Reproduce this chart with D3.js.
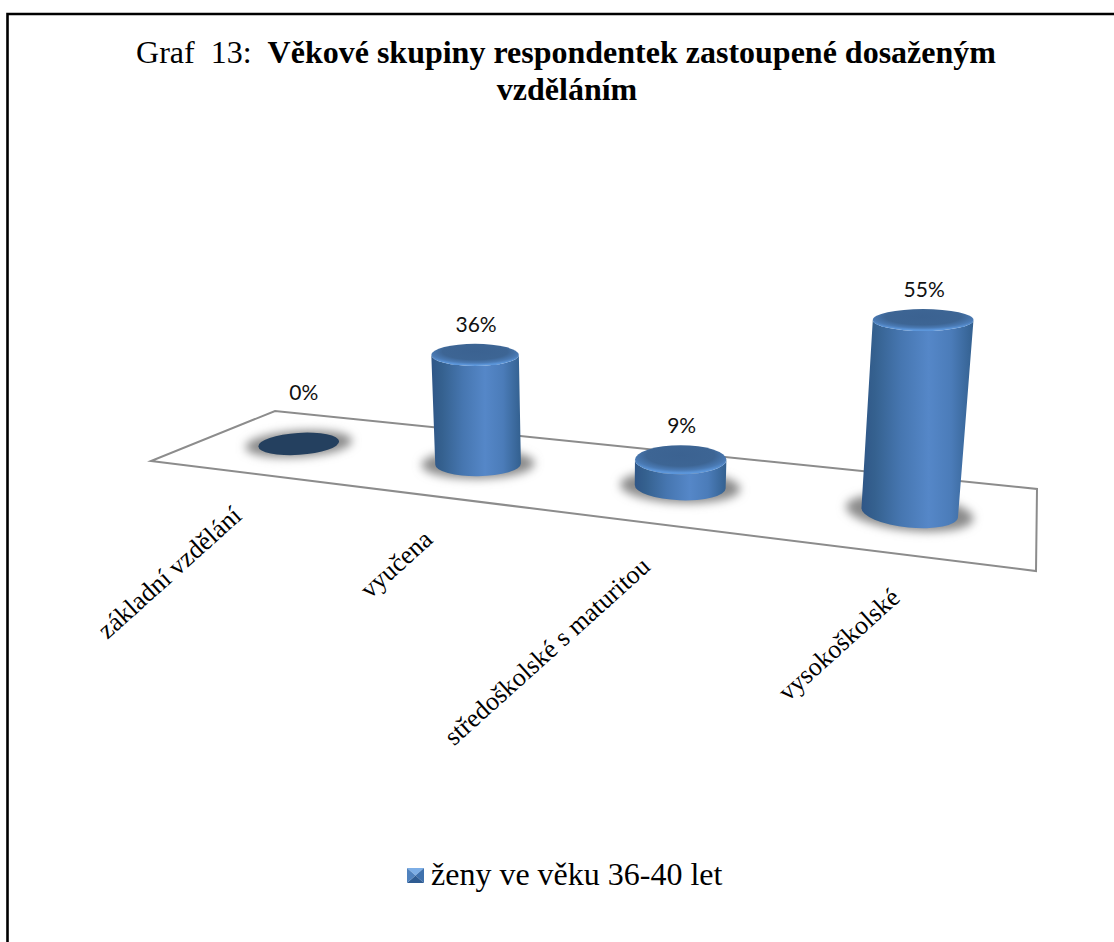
<!DOCTYPE html>
<html><head><meta charset="utf-8">
<style>html,body{margin:0;padding:0;background:#fff;overflow:hidden}svg{display:block}</style>
<script src="https://cdn.jsdelivr.net/npm/d3@7"></script></head>
<body><svg id="c" width="1114" height="942"></svg>
<script>
const categories = ["základní vzdělání","vyučena","středoškolské s maturitou","vysokoškolské"];
const values = [0,36,9,55];
const seriesName = "ženy ve věku 36-40 let";
const titlePrefix = "Graf  13:  ";
const titleBold1 = "Věkové skupiny respondentek zastoupené dosaženým";
const titleBold2 = "vzděláním";

const svg=d3.select("#c");
const defs=svg.append("defs");
const serif='"Liberation Serif","Times New Roman",serif';

// floor plane projection (unit square -> picture)
const fl={a:[151,461],b:[1036,571],c:[1037,489],d:[275,411]};
function homography(p0,p1,p2,p3){
  const dx1=p1[0]-p2[0],dx2=p3[0]-p2[0],sx=p0[0]-p1[0]+p2[0]-p3[0];
  const dy1=p1[1]-p2[1],dy2=p3[1]-p2[1],sy=p0[1]-p1[1]+p2[1]-p3[1];
  const den=dx1*dy2-dx2*dy1;
  const g=(sx*dy2-dx2*sy)/den,h=(dx1*sy-sx*dy1)/den;
  const a=p1[0]-p0[0]+g*p1[0],b=p3[0]-p0[0]+h*p3[0],c=p0[0];
  const d=p1[1]-p0[1]+g*p1[1],e=p3[1]-p0[1]+h*p3[1],f=p0[1];
  return (u,v)=>{const w=g*u+h*v+1;return [(a*u+b*v+c)/w,(d*u+e*v+f)/w];};
}
const floor=homography(fl.a,fl.b,fl.c,fl.d);
const u=d3.scaleBand().domain(categories).range([0,1]);
const uc=c=>u(c)+u.bandwidth()/2;

// size/lean as function of the picture x of the base centre
const widthAt=d3.scaleLinear([300,911],[81,97]);
const ryAt=d3.scaleLinear([300,911],[11,15]);
const rotAt=d3.scaleLinear([300,911],[-3.6,5.8]);
const unitAt=d3.scalePow().exponent(3).domain([300,911]).range([3.03,3.54]);
const leanAt=d3.scaleLinear([480,911],[-0.027,0.07]);
const topRyAt=d3.scaleLinear([27,194],[1.08,0.73]);

// frame: only the top and left rules lie inside the picture
svg.append("path").attr("d","M7.5 942V14H1114").attr("fill","none").attr("stroke","#000").attr("stroke-width",2.6);

// title
const t=svg.append("text").attr("font-family",serif).attr("font-size",32).attr("fill","#000");
const t1=t.append("tspan").attr("x",566).attr("y",63).attr("text-anchor","middle");
t1.append("tspan").text(titlePrefix).style("white-space","pre");
t1.append("tspan").text(titleBold1).attr("font-weight","bold");
t.append("tspan").attr("x",567).attr("y",100).attr("text-anchor","middle").attr("font-weight","bold").text(titleBold2);

// floor
svg.append("path").attr("d",d3.line()([fl.a,fl.b,fl.c,fl.d])+"Z")
  .attr("fill","#fff").attr("stroke","#8c8c8c").attr("stroke-width",2).attr("stroke-linejoin","miter");

// defs
const blur=defs.append("filter").attr("id","sh").attr("x","-30%").attr("y","-60%").attr("width","160%").attr("height","220%");
blur.append("feGaussianBlur").attr("stdDeviation",5);
const side=defs.append("linearGradient").attr("id","side");
[[0,"#2f5687"],[.12,"#35618f"],[.35,"#4676b0"],[.6,"#5587c8"],[.8,"#4b7cb9"],[1,"#33608f"]].forEach(s=>side.append("stop").attr("offset",s[0]).attr("stop-color",s[1]));
const rim=defs.append("radialGradient").attr("id","rim").attr("cx","50%").attr("cy","35%").attr("r","60%");
[[0,"#3b6291"],[.62,"#3d6594"],[.85,"#4a7ab4"],[1,"#5c96da"]].forEach(s=>rim.append("stop").attr("offset",s[0]).attr("stop-color",s[1]));

// columns
const cols=svg.append("g").selectAll("g").data(categories).join("g");
cols.each(function(c,i){
  const g=d3.select(this), v=values[i];
  const [bx,by]=floor(uc(c),0.49);
  const w=widthAt(bx), ry=ryAt(bx), rot=rotAt(bx);
  const cosr=Math.cos(rot*Math.PI/180), sinr=Math.sin(rot*Math.PI/180);
  g.append("ellipse").attr("cx",bx).attr("cy",by).attr("rx",w*0.66).attr("ry",ry*1.2)
    .attr("transform",`rotate(${rot} ${bx} ${by})`).attr("fill","#8a8a8a").attr("filter","url(#sh)");
  let lx=bx+5, ly=by-44;
  if(v===0){
    g.append("ellipse").attr("cx",bx).attr("cy",by).attr("rx",w/2).attr("ry",ry)
      .attr("transform",`rotate(${rot} ${bx} ${by})`).attr("fill","#24405f");
  } else {
    const h=v*unitAt(bx)-2;
    const tx=bx+h*leanAt(bx), ty=by-h;
    const tw=w*(1+h*0.0002), try_=ry*topRyAt(h);
    const rx=w/2;
    const bl=[bx-rx*cosr,by-rx*sinr], br=[bx+rx*cosr,by+rx*sinr];
    const tl=[tx-tw/2,ty], tr=[tx+tw/2,ty];
    g.append("path").attr("fill","url(#side)")
      .attr("d",`M${tl}L${bl}A${rx} ${ry} ${rot} 0 0 ${br}L${tr}A${tw/2} ${try_} 0 0 1 ${tl}Z`);
    g.append("ellipse").attr("cx",tx).attr("cy",ty).attr("rx",tw/2).attr("ry",try_).attr("fill","url(#rim)");
    lx=tx+1; ly=ty-try_-12;
  }
  svg.append("text").attr("x",lx).attr("y",ly).attr("text-anchor","middle")
    .attr("font-family","Lato,'Open Sans',sans-serif").attr("font-size",21).attr("fill","#111").text(v+"%");

  // category labels, end anchored below the front edge of the floor
  const [fx,fy]=floor(uc(c),0);
  svg.append("text").attr("font-family",serif).attr("font-size",26).attr("fill","#000")
    .attr("text-anchor","end").attr("transform",`translate(${fx+5},${fy+46}) rotate(-42)`).text(c);
});

// legend
const lg=svg.append("g").attr("transform","translate(407,868)");
[[[0,0],[17,0],[8.5,7.5],"#7daee6"],[[17,0],[17,15],[8.5,7.5],"#3f71ad"],[[17,15],[0,15],[8.5,7.5],"#2f5c92"],[[0,15],[0,0],[8.5,7.5],"#5082be"]]
 .forEach(p=>lg.append("path").attr("d",d3.line()(p.slice(0,3))+"Z").attr("fill",p[3]));
svg.append("text").attr("x",431).attr("y",885).attr("font-family",serif).attr("font-size",32).attr("fill","#000").text(seriesName);
</script></body></html>
